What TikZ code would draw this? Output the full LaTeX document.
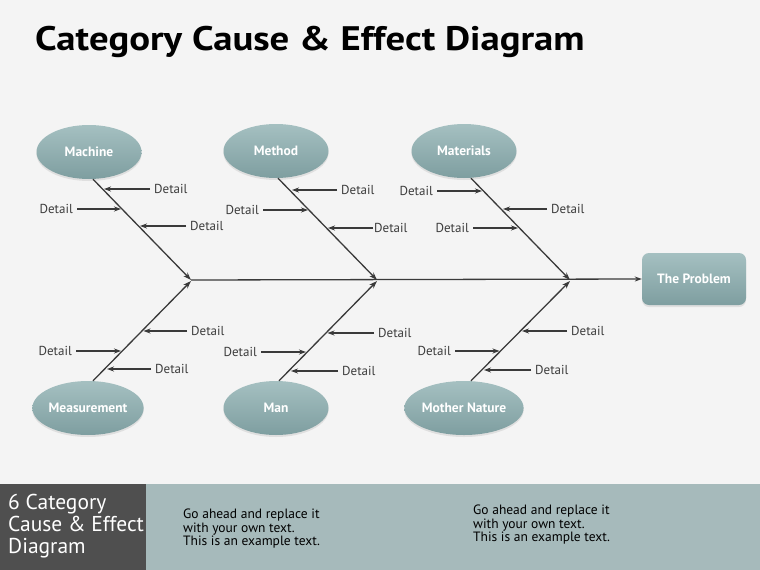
\documentclass[tikz,border=0pt]{standalone}
\usepackage{fontspec}
\setmainfont{PT Sans}
\newfontfamily\titlefont{PT Sans}[FakeStretch=1.14]
\usetikzlibrary{shapes.geometric,arrows.meta,shadows}
\definecolor{bgc}{HTML}{F4F4F4}
\definecolor{linec}{HTML}{3A3A3A}
\definecolor{txtc}{HTML}{3C3C3C}
\definecolor{elltop}{HTML}{A5C0C1}
\definecolor{ellmid}{HTML}{93B1B2}
\definecolor{ellbot}{HTML}{7E9EA0}
\definecolor{footr}{HTML}{A6BABB}
\definecolor{footl}{HTML}{4F4F4F}
\tikzset{
  cat/.style={ellipse, minimum width=105pt, minimum height=54pt, inner sep=0pt,
    top color=elltop, middle color=ellmid, bottom color=ellbot, draw=none,
    drop shadow={opacity=0.18, shadow xshift=0pt, shadow yshift=-2pt},
    text=white, font=\fontsize{13.5}{15}\selectfont\bfseries},
  probbox/.style={rectangle, rounded corners=7pt, minimum width=104pt, minimum height=52pt,
    top color=elltop, middle color=ellmid, bottom color=ellbot, draw=none,
    drop shadow={opacity=0.18, shadow xshift=0pt, shadow yshift=-2pt},
    text=white, font=\fontsize{13.5}{15}\selectfont\bfseries},
  det/.style={inner xsep=4pt, inner ysep=1pt, text=txtc, font=\fontsize{13}{15}\selectfont},
  detR/.style={det, anchor=west},
  detL/.style={det, anchor=east},
  arr/.style={draw=linec, line width=1.1pt, -{Stealth[length=7pt,width=5pt]}},
  bone/.style={draw=linec, line width=1.3pt, -{Stealth[length=8pt,width=5.5pt]}},
}
\begin{document}
\begin{tikzpicture}[x=1pt,y=-1pt]
\useasboundingbox (0,0) rectangle (760,570);
\fill[bgc] (0,0) rectangle (760,570);
% title
\node[anchor=base west, inner sep=0pt, font=\titlefont\fontsize{34}{40}\selectfont\bfseries] (title) at (35,50) {Category Cause \& Effect Diagram};
% footer
\fill[footr] (0,484) rectangle (760,570);
\fill[footl] (0,484) rectangle (146,570);
\node[anchor=north west, inner sep=0pt, align=left, text=white, font=\fontsize{21.5}{22}\selectfont] (ftitle) at (8,494) {6 Category\\Cause \& Effect\\Diagram};
\node[anchor=north west, inner sep=0pt, align=left, text=black, font=\fontsize{13.5}{13.3}\selectfont] (ft1) at (183,509) {Go ahead and replace it\\with your own text.\\This is an example text.};
\node[anchor=north west, inner sep=0pt, align=left, text=black, font=\fontsize{13.5}{13.3}\selectfont] (ft2) at (473,505) {Go ahead and replace it\\with your own text.\\This is an example text.};
% category nodes
\node[cat] (machine) at (89,152) {Machine};
\node[cat] (method) at (276,151) {Method};
\node[cat] (materials) at (464,151) {Materials};
\node[cat] (measure) at (88,408) {Measurement};
\node[cat] (man) at (276,408) {Man};
\node[cat] (nature) at (464,408) {Mother Nature};
\node[probbox] (problem) at (694,279) {The Problem};
% junctions
\coordinate (j1) at (191,280);
\coordinate (j2) at (377,280);
\coordinate (j3) at (570,280);
% spine
\draw[arr, line width=1.3pt] (j1) -- (problem.west);
% bones
\draw[bone] ([xshift=4pt]machine.south) -- (j1);
\draw[bone] ([xshift=2pt]method.south) -- (j2);
\draw[bone] ([xshift=7pt]materials.south) -- (j3);
\draw[bone] ([xshift=5pt]measure.north) -- ([yshift=-1pt]j1);
\draw[bone] ([xshift=3pt]man.north) -- ([yshift=-1pt]j2);
\draw[bone] ([xshift=7pt]nature.north) -- ([yshift=-1pt]j3);
% Machine details
\coordinate (a1) at (104,189); \node[detR] (ad1) at (150,189) {Detail}; \draw[arr] (ad1.west) -- (a1);
\coordinate (a2) at (121,209); \node[detL] (ad2) at (77,209) {Detail}; \draw[arr] (ad2.east) -- (a2);
\coordinate (a3) at (140,226); \node[detR] (ad3) at (186,226) {Detail}; \draw[arr] (ad3.west) -- (a3);
% Method details
\coordinate (b1) at (292,190); \node[detR] (bd1) at (337,190) {Detail}; \draw[arr] (bd1.west) -- (b1);
\coordinate (b2) at (308,210); \node[detL] (bd2) at (263,210) {Detail}; \draw[arr] (bd2.east) -- (b2);
\coordinate (b3) at (328,228); \node[detR, inner xsep=1pt] (bd3) at (373,228) {Detail}; \draw[arr] (bd3.west) -- (b3);
% Materials details
\coordinate (c1) at (482,191); \node[detL] (cd1) at (437,191) {Detail}; \draw[arr] (cd1.east) -- (c1);
\coordinate (c2) at (503,209); \node[detR] (cd2) at (547,209) {Detail}; \draw[arr] (cd2.west) -- (c2);
\coordinate (c3) at (518,228); \node[detL] (cd3) at (473,228) {Detail}; \draw[arr] (cd3.east) -- (c3);
% Measurement details
\coordinate (d1) at (143.5,331); \node[detR] (dd1) at (187,331) {Detail}; \draw[arr] (dd1.west) -- (d1);
\coordinate (d2) at (121,351); \node[detL] (dd2) at (76,351) {Detail}; \draw[arr] (dd2.east) -- (d2);
\coordinate (d3) at (107,369); \node[detR] (dd3) at (151,369) {Detail}; \draw[arr] (dd3.west) -- (d3);
% Man details
\coordinate (e1) at (327.5,333); \node[detR] (ed1) at (374,333) {Detail}; \draw[arr] (ed1.west) -- (e1);
\coordinate (e2) at (306,352); \node[detL] (ed2) at (261,352) {Detail}; \draw[arr] (ed2.east) -- (e2);
\coordinate (e3) at (291,371); \node[detR] (ed3) at (338,371) {Detail}; \draw[arr] (ed3.west) -- (e3);
% Mother Nature details
\coordinate (f1) at (522,331); \node[detR] (fd1) at (567,331) {Detail}; \draw[arr] (fd1.west) -- (f1);
\coordinate (f2) at (499.5,351); \node[detL] (fd2) at (455,351) {Detail}; \draw[arr] (fd2.east) -- (f2);
\coordinate (f3) at (484,370); \node[detR] (fd3) at (531,370) {Detail}; \draw[arr] (fd3.west) -- (f3);
\end{tikzpicture}
\end{document}
